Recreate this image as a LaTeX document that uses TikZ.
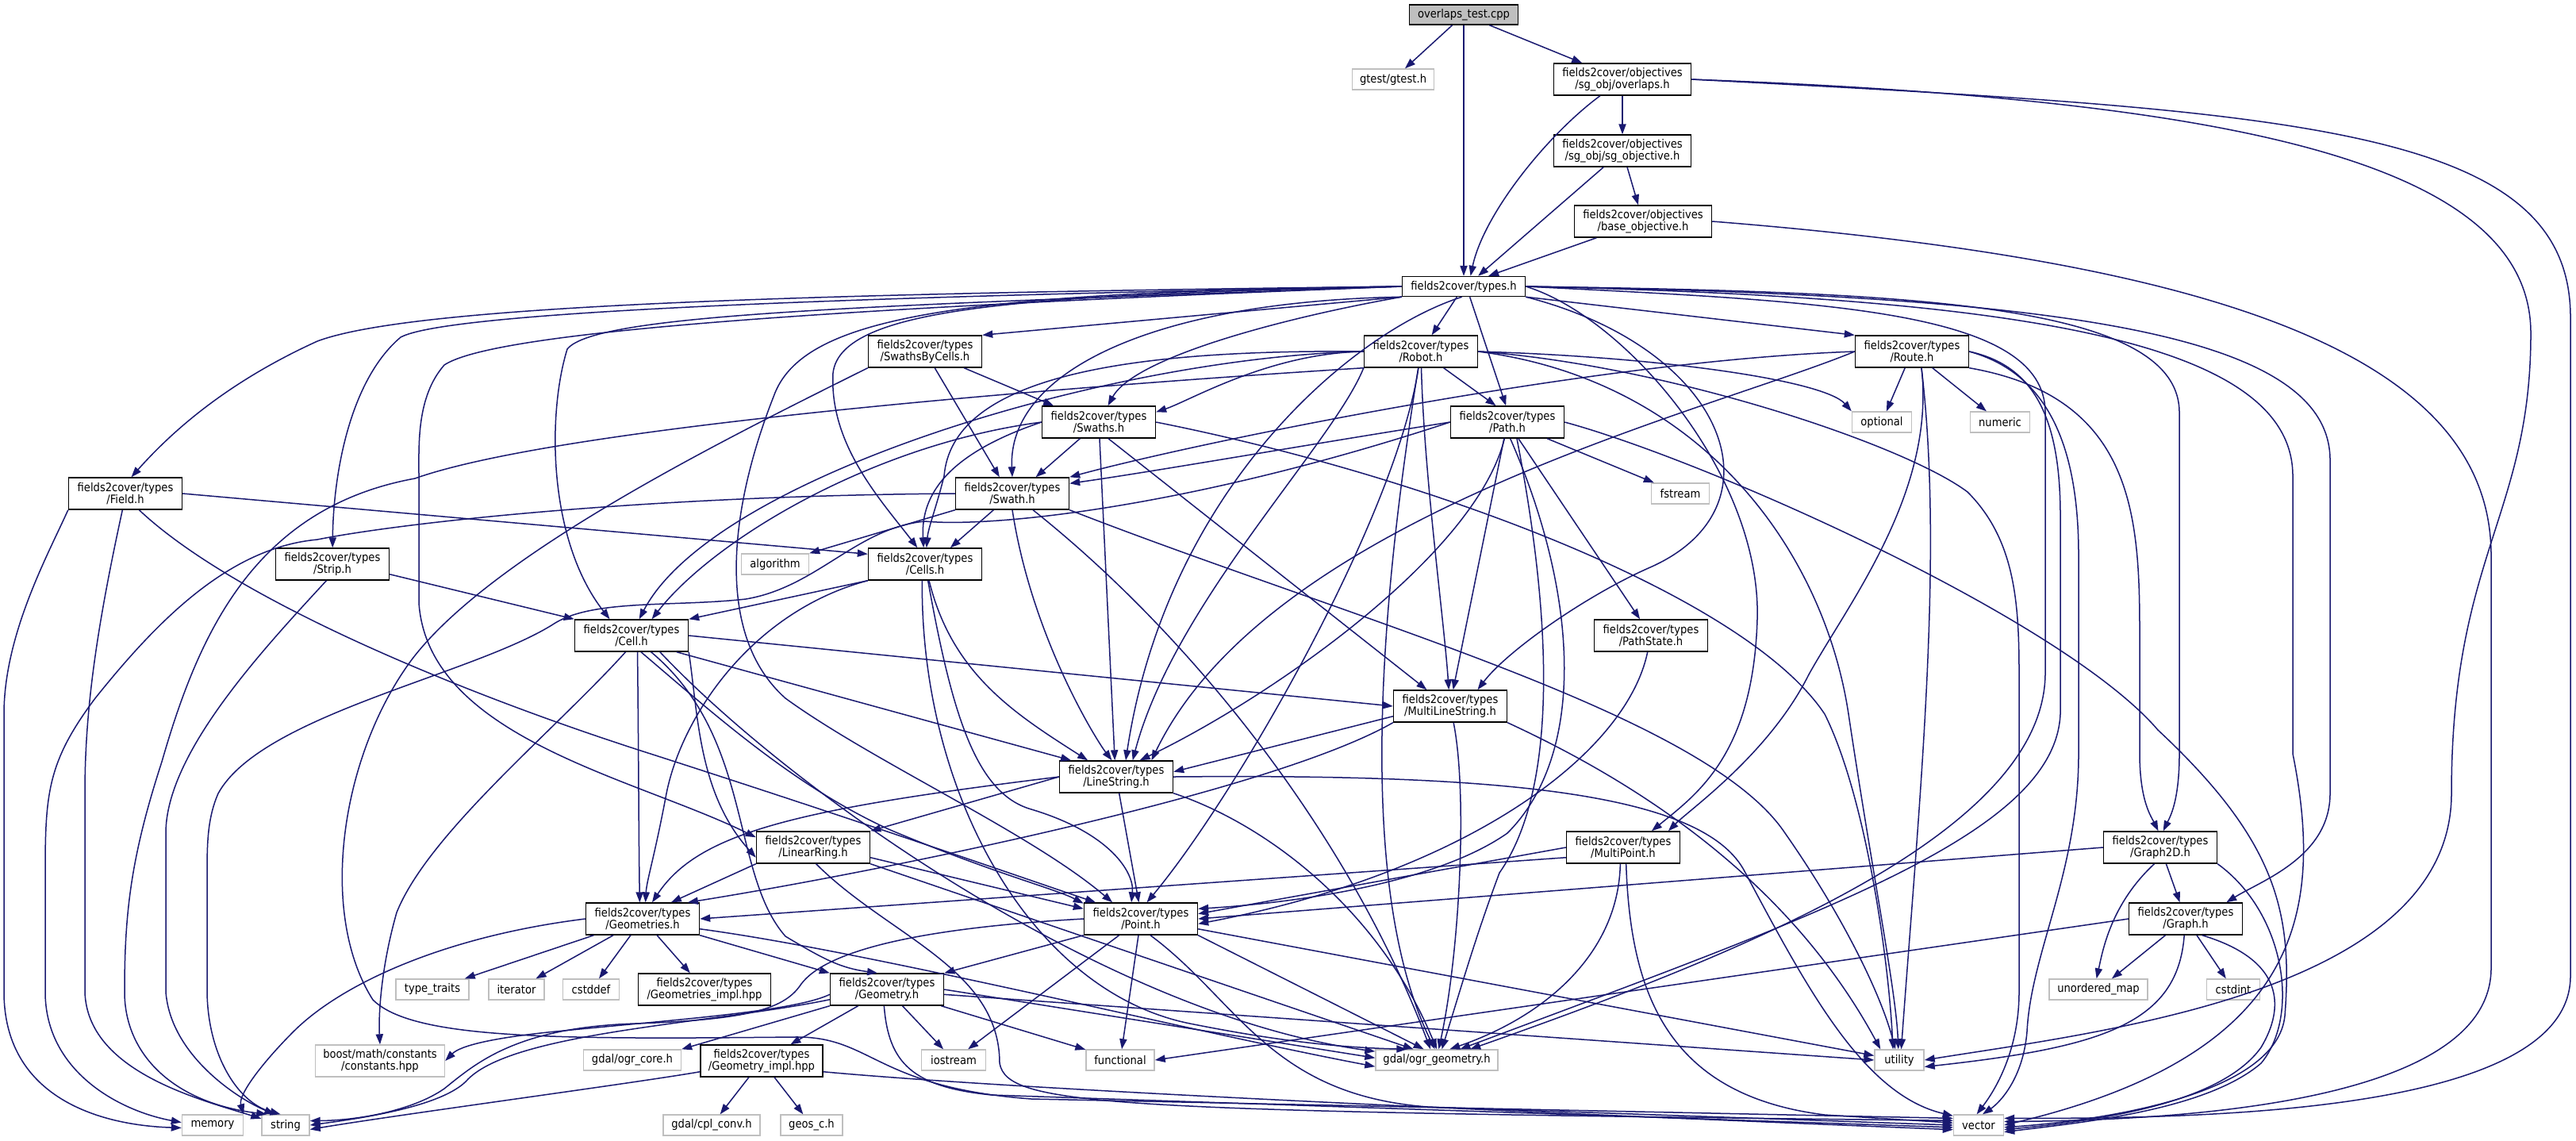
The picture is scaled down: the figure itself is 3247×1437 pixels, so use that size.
\documentclass[tikz,border=0pt]{standalone}
\usepackage{fontspec}
\setmainfont{DejaVu Sans Condensed}
\usepackage{tikz}
\usetikzlibrary{arrows.meta}
\definecolor{edgeblue}{RGB}{25,25,112}
\definecolor{sysgrey}{RGB}{191,191,191}
\definecolor{rootgrey}{RGB}{191,191,191}
\tikzset{
  hdr/.style={rectangle, draw=black, fill=white, line width=0.7pt, align=center, inner sep=0pt,
    font=\fontsize{7.3}{7.6}\selectfont, minimum width=71.5pt, minimum height=20pt},
  sys/.style={rectangle, draw=sysgrey, fill=white, line width=0.7pt, align=center, inner sep=0pt,
    font=\fontsize{7.3}{7.6}\selectfont, minimum height=13pt},
  arrow/.style={-{Stealth[length=6.5pt,width=4.6pt,inset=0pt]}, draw=edgeblue, line width=0.75pt}
}

\begin{document}
\begin{tikzpicture}[x=0.5pt, y=-0.5pt]
  \path[use as bounding box, fill=white] (0,0) rectangle (3247,1437);
  % root and objectives
  \node[hdr, fill=rootgrey, minimum width=68.5pt, minimum height=12.5pt] (test) at (1845,18.5) {overlaps\_test.cpp};
  \node[sys, minimum width=51.5pt] (gtest) at (1756,100) {gtest/gtest.h};
  \node[hdr, minimum width=86.5pt] (overlaps) at (2045,100) {fields2cover/objectives\\/sg\_obj/overlaps.h};
  \node[hdr, minimum width=86.5pt] (sgobj) at (2045,190) {fields2cover/objectives\\/sg\_obj/sg\_objective.h};
  \node[hdr, minimum width=86.5pt] (baseobj) at (2071,279) {fields2cover/objectives\\/base\_objective.h};
  \node[hdr, minimum width=77.5pt, minimum height=12.5pt] (types) at (1845,361) {fields2cover/types.h};
  % type headers
  \node[hdr] (swbycells) at (1166,443) {fields2cover/types\\/SwathsByCells.h};
  \node[hdr] (robot) at (1791,443) {fields2cover/types\\/Robot.h};
  \node[hdr] (route) at (2410,443) {fields2cover/types\\/Route.h};
  \node[hdr] (field) at (158,622) {fields2cover/types\\/Field.h};
  \node[hdr] (swaths) at (1385,532) {fields2cover/types\\/Swaths.h};
  \node[hdr] (path) at (1900,532) {fields2cover/types\\/Path.h};
  \node[hdr] (swath) at (1276,622) {fields2cover/types\\/Swath.h};
  \node[hdr] (strip) at (419,711) {fields2cover/types\\/Strip.h};
  \node[hdr] (cells) at (1166,711) {fields2cover/types\\/Cells.h};
  \node[hdr] (cell) at (796,801) {fields2cover/types\\/Cell.h};
  \node[hdr] (pathstate) at (2081,801) {fields2cover/types\\/PathState.h};
  \node[hdr] (mls) at (1828,890) {fields2cover/types\\/MultiLineString.h};
  \node[hdr] (linestring) at (1407,979) {fields2cover/types\\/LineString.h};
  \node[hdr] (linearring) at (1025,1068) {fields2cover/types\\/LinearRing.h};
  \node[hdr] (multipoint) at (2046,1068) {fields2cover/types\\/MultiPoint.h};
  \node[hdr] (graphtwod) at (2723,1068) {fields2cover/types\\/Graph2D.h};
  \node[hdr] (geometries) at (810,1158) {fields2cover/types\\/Geometries.h};
  \node[hdr] (point) at (1438,1158) {fields2cover/types\\/Point.h};
  \node[hdr] (graph) at (2755,1158) {fields2cover/types\\/Graph.h};
  \node[hdr, minimum width=83.5pt] (geomsimpl) at (888,1247) {fields2cover/types\\/Geometries\_impl.hpp};
  \node[hdr] (geometry) at (1118,1247) {fields2cover/types\\/Geometry.h};
  \node[hdr, minimum width=77pt] (geomimpl) at (960,1337) {fields2cover/types\\/Geometry\_impl.hpp};
  % system headers
  \node[sys, minimum width=37.5pt] (optional) at (2372,532) {optional};
  \node[sys, minimum width=37.5pt] (numeric) at (2521,532) {numeric};
  \node[sys, minimum width=36.5pt] (fstream) at (2118,622) {fstream};
  \node[sys, minimum width=42.5pt] (algorithm) at (977,711) {algorithm};
  \node[sys, minimum width=46pt] (typetraits) at (545,1247) {type\_traits};
  \node[sys, minimum width=35pt] (iterator) at (651,1247) {iterator};
  \node[sys, minimum width=35.5pt] (cstddef) at (745,1247) {cstddef};
  \node[sys, minimum width=62pt] (umap) at (2645,1247) {unordered\_map};
  \node[sys, minimum width=33.5pt] (cstdint) at (2815,1247) {cstdint};
  \node[sys, minimum width=81.5pt, minimum height=20pt] (boost) at (479,1337) {boost/math/constants\\/constants.hpp};
  \node[sys, minimum width=61.5pt] (ogrcore) at (797,1336) {gdal/ogr\_core.h};
  \node[sys, minimum width=40.5pt] (iostream) at (1202,1336) {iostream};
  \node[sys, minimum width=43pt] (functional) at (1412,1336) {functional};
  \node[sys, minimum width=77pt] (ogrgeom) at (1811,1336) {gdal/ogr\_geometry.h};
  \node[sys, minimum width=31pt] (utility) at (2394,1336) {utility};
  \node[sys, minimum width=38.5pt] (memory) at (268,1418) {memory};
  \node[sys, minimum width=30pt] (string) at (360,1418) {string};
  \node[sys, minimum width=61pt] (cplconv) at (897,1418) {gdal/cpl\_conv.h};
  \node[sys, minimum width=39pt] (geosc) at (1023,1418) {geos\_c.h};
  \node[sys, minimum width=31.5pt] (vector) at (2494,1418) {vector};

  % root
  \draw[arrow] (test) -- (gtest);
  \draw[arrow] (test) -- (types);
  \draw[arrow] (test) -- (overlaps);
  % objectives
  \draw[arrow] (overlaps) -- (sgobj);
  \draw[arrow] (overlaps) .. controls (1950,170) and (1870,270) .. (types.57);
  \draw[arrow] (overlaps.east) .. controls (2800,125) and (3190,200) .. (3190,420) .. controls (3190,650) and (3090,700) .. (3090,1000) .. controls (3090,1250) and (2650,1300) .. (utility.east);
  \draw[arrow] (overlaps.east) .. controls (2900,140) and (3240,160) .. (3240,400) -- (3240,1230) .. controls (3240,1400) and (2800,1410) .. (vector.15);
  \draw[arrow] (sgobj) -- (baseobj);
  \draw[arrow] (sgobj) -- (types.36);
  \draw[arrow] (baseobj) -- (types.23);
  \draw[arrow] (baseobj.east) .. controls (2800,330) and (3140,450) .. (3140,700) -- (3140,1220) .. controls (3140,1390) and (2750,1412) .. (vector.8);
  % types.h, left side
  \draw[arrow] (types.west) .. controls (1000,370) and (520,385) .. (400,430) .. controls (290,480) and (220,540) .. (field.70);
  \draw[arrow] (types.west) .. controls (1000,375) and (560,395) .. (505,425) .. controls (440,480) and (420,600) .. (strip);
  \draw[arrow] (types.west) .. controls (1100,385) and (750,395) .. (715,440) .. controls (690,520) and (690,680) .. (cell.143);
  \draw[arrow] (types.west) .. controls (1000,390) and (620,420) .. (560,460) .. controls (525,500) and (528,560) .. (528,600) -- (528,760) .. controls (540,930) and (800,980) .. (linearring.170);
  \draw[arrow] (types.south west) -- (swbycells.north east);
  \draw[arrow] (types.west) .. controls (1300,372) and (1060,385) .. (1050,470) .. controls (1045,560) and (1110,630) .. (cells.115);
  \draw[arrow] (types.west) .. controls (1200,368) and (1010,400) .. (975,500) .. controls (920,640) and (900,800) .. (990,880) .. controls (1100,960) and (1300,1050) .. (point.150);
  \draw[arrow] (types.south west) .. controls (1620,400) and (1430,450) .. (swaths.61);
  \draw[arrow] (types.south west) .. controls (1450,380) and (1270,470) .. (swath.90);
  % types.h, downwards and right
  \draw[arrow] (types) -- (robot);
  \draw[arrow] (types.-60) -- (path.95);
  \draw[arrow] (types.-100) .. controls (1700,420) and (1470,620) .. (linestring.60);
  \draw[arrow] (types.south east) .. controls (2180,440) and (2250,640) .. (2080,715) .. controls (2000,750) and (1900,820) .. (mls.31);
  \draw[arrow] (types.south east) -- (route.north west);
  \draw[arrow] (types.east) .. controls (2050,400) and (2220,600) .. (2215,780) .. controls (2210,950) and (2140,1000) .. (multipoint.30);
  \draw[arrow] (types.east) .. controls (2400,368) and (2747,380) .. (2747,520) -- (2747,950) .. controls (2747,1010) and (2735,1030) .. (graphtwod.80);
  \draw[arrow] (types.east) .. controls (2600,372) and (2937,420) .. (2937,580) -- (2937,1000) .. controls (2937,1080) and (2850,1110) .. (graph.22);
  \draw[arrow] (types.east) .. controls (2550,375) and (2890,430) .. (2890,600) -- (2890,950) .. controls (2930,1150) and (2900,1330) .. (vector.east);
  \draw[arrow] (types.east) .. controls (2300,380) and (2578,390) .. (2578,520) -- (2578,850) .. controls (2575,1050) and (2200,1200) .. (ogrgeom.18);
  % SwathsByCells.h
  \draw[arrow] (swbycells) -- (swaths.160);
  \draw[arrow] (swbycells) -- (swath.128);
  \draw[arrow] (swbycells.south west) .. controls (900,560) and (620,700) .. (520,830) .. controls (430,950) and (400,1150) .. (470,1260) .. controls (520,1310) and (700,1310) .. (1000,1307) .. controls (1100,1305) and (1100,1370) .. (1300,1385) -- (vector.165);
  % Robot.h
  \draw[arrow] (robot) -- (path.125);
  \draw[arrow] (robot.west) .. controls (1600,445) and (1500,505) .. (swaths.10);
  \draw[arrow] (robot.west) .. controls (1400,450) and (900,600) .. (cell.65);
  \draw[arrow] (robot.west) .. controls (1400,440) and (1200,480) .. (1190,600) .. controls (1180,640) and (1170,665) .. (cells.85);
  \draw[arrow] (robot) .. controls (1795,600) and (1820,780) .. (mls.95);
  \draw[arrow] (robot.south west) .. controls (1680,560) and (1480,760) .. (linestring.45);
  \draw[arrow] (robot) .. controls (1760,650) and (1560,1000) .. (point.70);
  \draw[arrow] (robot.south west) .. controls (1300,490) and (700,540) .. (523,603) .. controls (320,640) and (250,800) .. (204,960) .. controls (165,1080) and (157,1150) .. (157,1250) .. controls (157,1330) and (220,1390) .. (string.150);
  \draw[arrow] (robot.east) .. controls (2100,450) and (2300,480) .. (optional.north west);
  \draw[arrow] (robot.east) .. controls (2100,460) and (2400,560) .. (2480,620) .. controls (2540,680) and (2545,760) .. (2545,850) -- (2545,1250) .. controls (2545,1330) and (2510,1380) .. (vector.100);
  \draw[arrow] (robot.east) .. controls (2150,480) and (2300,700) .. (2330,900) .. controls (2360,1100) and (2390,1250) .. (utility.95);
  \draw[arrow] (robot) .. controls (1750,700) and (1700,1100) .. (ogrgeom.100);
  % Route.h
  \draw[arrow] (route.west) .. controls (2000,455) and (1500,560) .. (swath.north east);
  \draw[arrow] (route.west) .. controls (2150,520) and (1600,650) .. (linestring.25);
  \draw[arrow] (route.300) .. controls (2440,620) and (2330,760) .. (2280,850) .. controls (2230,950) and (2130,1020) .. (multipoint.20);
  \draw[arrow] (route) -- (optional);
  \draw[arrow] (route) -- (numeric);
  \draw[arrow] (route.south east) .. controls (2690,500) and (2697,650) .. (2697,800) -- (2697,950) .. controls (2697,1010) and (2712,1030) .. (graphtwod.97);
  \draw[arrow] (route.east) .. controls (2580,470) and (2620,560) .. (2620,700) -- (2620,950) .. controls (2620,1100) and (2560,1200) .. (2555,1300) .. controls (2550,1360) and (2520,1390) .. (vector.70);
  \draw[arrow] (route.east) .. controls (2560,460) and (2597,520) .. (2597,650) -- (2597,900) .. controls (2590,1050) and (2300,1150) .. (ogrgeom.25);
  \draw[arrow] (route.300) .. controls (2450,700) and (2420,1000) .. (utility.80);
  % Path.h
  \draw[arrow] (path.west) .. controls (1650,560) and (1450,595) .. (swath.10);
  \draw[arrow] (path.west) .. controls (1500,640) and (1250,665) .. (1166,657) .. controls (1080,665) and (1030,740) .. (940,755) .. controls (850,765) and (750,755) .. (700,785) .. controls (600,850) and (330,900) .. (275,1000) .. controls (262,1030) and (261,1060) .. (261,1100) -- (261,1250) .. controls (262,1330) and (300,1390) .. (string.115);
  \draw[arrow] (path) -- (fstream);
  \draw[arrow] (path) -- (pathstate);
  \draw[arrow] (path) -- (mls.80);
  \draw[arrow] (path.-100) .. controls (1860,700) and (1600,880) .. (linestring.35);
  \draw[arrow] (path.-80) .. controls (1990,750) and (2000,950) .. (1900,1050) .. controls (1800,1120) and (1600,1140) .. (point.10);
  \draw[arrow] (path.-60) .. controls (1960,800) and (1960,1000) .. (1890,1100) .. controls (1860,1180) and (1840,1250) .. (ogrgeom.65);
  \draw[arrow] (path.east) .. controls (2150,580) and (2600,780) .. (2720,920) .. controls (2870,1060) and (2890,1150) .. (2880,1280) .. controls (2870,1380) and (2650,1412) .. (vector.-5);
  \draw[arrow] (pathstate) .. controls (2050,950) and (1850,1100) .. (point.-5);
  % Swaths.h and Swath.h
  \draw[arrow] (swaths) -- (swath.35);
  \draw[arrow] (swaths.west) .. controls (1200,570) and (1160,620) .. (cells.95);
  \draw[arrow] (swaths.west) .. controls (1100,560) and (900,680) .. (cell.39);
  \draw[arrow] (swaths) -- (linestring.95);
  \draw[arrow] (swaths.-60) -- (mls.145);
  \draw[arrow] (swaths.east) .. controls (1800,600) and (2200,750) .. (2300,900) .. controls (2350,1000) and (2380,1200) .. (utility.120);
  \draw[arrow] (swath) -- (cells.33);
  \draw[arrow] (swath.south west) -- (algorithm.north east);
  \draw[arrow] (swath.west) .. controls (800,625) and (500,660) .. (400,680) .. controls (290,690) and (200,780) .. (120,880) .. controls (60,960) and (57,1000) .. (57,1100) -- (57,1250) .. controls (57,1350) and (150,1400) .. (memory.175);
  \draw[arrow] (swath.south) .. controls (1300,800) and (1380,930) .. (linestring.105);
  \draw[arrow] (swath) .. controls (1500,800) and (1700,1050) .. (ogrgeom.120);
  \draw[arrow] (swath.south east) .. controls (1700,780) and (2150,900) .. (2250,1050) .. controls (2320,1150) and (2370,1250) .. (utility.110);
  % Field.h and Strip.h
  \draw[arrow] (field.east) -- (cells.170);
  \draw[arrow] (field.-50) .. controls (300,760) and (600,880) .. (820,950) .. controls (1100,1040) and (1300,1110) .. (point.160);
  \draw[arrow] (field.south west) .. controls (60,700) and (5,800) .. (5,900) -- (5,1250) .. controls (5,1380) and (120,1418) .. (memory.185);
  \draw[arrow] (field.-100) .. controls (120,800) and (107,900) .. (107,1000) -- (107,1250) .. controls (110,1350) and (250,1385) .. (string.165);
  \draw[arrow] (strip.-10) -- (cell.north west);
  \draw[arrow] (strip.-110) .. controls (330,820) and (209,950) .. (209,1050) -- (209,1250) .. controls (215,1330) and (300,1385) .. (string.135);
  % Cells.h and Cell.h
  \draw[arrow] (cells.south west) -- (cell.north east);
  \draw[arrow] (cells.south west) .. controls (950,770) and (860,900) .. (840,1000) .. controls (825,1080) and (815,1110) .. (geometries.80);
  \draw[arrow] (cells) .. controls (1200,850) and (1280,900) .. (linestring.150);
  \draw[arrow] (cells.-80) .. controls (1200,900) and (1230,1000) .. (1300,1020) .. controls (1400,1050) and (1430,1100) .. (point.120);
  \draw[arrow] (cells.-100) .. controls (1160,1000) and (1300,1250) .. (1500,1290) .. controls (1600,1310) and (1680,1320) .. (ogrgeom.160);
  \draw[arrow] (cell.-70) .. controls (805,950) and (805,1050) .. (geometries.100);
  \draw[arrow] (cell.south east) .. controls (880,900) and (880,1000) .. (linearring.190);
  \draw[arrow] (cell.-60) .. controls (900,900) and (1000,990) .. (1120,1045) .. controls (1250,1100) and (1330,1120) .. (point.165);
  \draw[arrow] (cell.east) -- (mls.west);
  \draw[arrow] (cell.-20) -- (linestring.160);
  \draw[arrow] (cell.-110) .. controls (700,920) and (540,1050) .. (500,1150) .. controls (480,1220) and (477,1280) .. (boost.north);
  \draw[arrow] (cell.-40) .. controls (950,930) and (920,1100) .. (990,1180) .. controls (1040,1210) and (1060,1220) .. (geometry.120);
  \draw[arrow] (cell.-30) .. controls (1000,1000) and (1400,1280) .. (ogrgeom.172);
  % geometry headers
  \draw[arrow] (geometries.south east) -- (geometry.north west);
  \draw[arrow] (geometries) -- (geomsimpl);
  \draw[arrow] (geometries) -- (typetraits);
  \draw[arrow] (geometries) -- (iterator);
  \draw[arrow] (geometries) -- (cstddef);
  \draw[arrow] (geometries.west) .. controls (560,1180) and (430,1240) .. (370,1300) .. controls (330,1340) and (300,1380) .. (memory.north east);
  \draw[arrow] (geometries.-10) .. controls (1100,1200) and (1500,1300) .. (ogrgeom.186);
  \draw[arrow] (linearring.south west) -- (geometries.30);
  \draw[arrow] (linearring.-10) -- (point.170);
  \draw[arrow] (linearring.south east) -- (ogrgeom.155);
  \draw[arrow] (linearring.-80) .. controls (1120,1180) and (1260,1220) .. (1260,1340) .. controls (1270,1395) and (1400,1400) .. (vector.170);
  \draw[arrow] (linestring.-80) -- (point.97);
  \draw[arrow] (linestring.west) -- (linearring.north east);
  \draw[arrow] (linestring.west) .. controls (1000,1020) and (880,1050) .. (geometries.60);
  \draw[arrow] (linestring.south east) .. controls (1600,1040) and (1740,1150) .. (ogrgeom.90);
  \draw[arrow] (linestring.east) .. controls (1900,975) and (2150,1000) .. (2200,1100) .. controls (2280,1250) and (2350,1380) .. (vector.160);
  \draw[arrow] (mls.190) -- (linestring.5);
  \draw[arrow] (mls.south west) .. controls (1600,1000) and (1100,1100) .. (geometries.20);
  \draw[arrow] (mls) .. controls (1850,1000) and (1840,1200) .. (ogrgeom.80);
  \draw[arrow] (mls.south east) .. controls (2050,980) and (2250,1100) .. (utility.150);
  \draw[arrow] (multipoint.west) -- (point.5);
  \draw[arrow] (multipoint.190) -- (geometries.east);
  \draw[arrow] (multipoint.-100) .. controls (2040,1200) and (1950,1280) .. (ogrgeom.40);
  \draw[arrow] (multipoint.-80) .. controls (2055,1250) and (2100,1380) .. (2300,1405) -- (vector.175);
  % Point.h
  \draw[arrow] (point.south west) -- (geometry.north east);
  \draw[arrow] (point.west) .. controls (1150,1170) and (1040,1200) .. (1010,1240) .. controls (990,1270) and (950,1285) .. (800,1290) .. controls (650,1295) and (600,1340) .. (560,1372) .. controls (520,1400) and (450,1412) .. (string.10);
  \draw[arrow] (point) -- (iostream);
  \draw[arrow] (point) -- (functional);
  \draw[arrow] (point.south east) -- (ogrgeom.140);
  \draw[arrow] (point.-10) -- (utility.170);
  \draw[arrow] (point.-60) .. controls (1560,1260) and (1600,1380) .. (1800,1395) -- (vector.180);
  % Geometry.h
  \draw[arrow] (geometry) -- (geomimpl);
  \draw[arrow] (geometry.south west) -- (ogrcore.north east);
  \draw[arrow] (geometry) -- (iostream);
  \draw[arrow] (geometry) -- (functional);
  \draw[arrow] (geometry.185) .. controls (1000,1275) and (850,1285) .. (700,1300) .. controls (620,1308) and (580,1318) .. (boost.east);
  \draw[arrow] (geometry.190) .. controls (900,1290) and (650,1300) .. (590,1360) .. controls (560,1395) and (450,1410) .. (string.east);
  \draw[arrow] (geometry.east) -- (ogrgeom.178);
  \draw[arrow] (geometry.-5) -- (utility.west);
  \draw[arrow] (geometry.-100) .. controls (1120,1340) and (1150,1370) .. (1250,1380) -- (vector.185);
  \draw[arrow] (geomimpl) -- (cplconv);
  \draw[arrow] (geomimpl) -- (geosc);
  \draw[arrow] (geomimpl.190) .. controls (800,1365) and (500,1405) .. (string.-10);
  \draw[arrow] (geomimpl.-10) .. controls (1300,1375) and (2000,1405) .. (vector.190);
  % graphs
  \draw[arrow] (graphtwod) -- (graph);
  \draw[arrow] (graphtwod.-110) .. controls (2660,1140) and (2650,1200) .. (umap.100);
  \draw[arrow] (graphtwod.west) -- (point.east);
  \draw[arrow] (graphtwod.south east) .. controls (2880,1150) and (2900,1280) .. (2850,1340) .. controls (2780,1400) and (2620,1415) .. (vector.-15);
  \draw[arrow] (graph) -- (umap);
  \draw[arrow] (graph) -- (cstdint);
  \draw[arrow] (graph.-45) .. controls (2880,1210) and (2880,1270) .. (2850,1320) .. controls (2800,1390) and (2650,1412) .. (vector.-10);
  \draw[arrow] (graph.-95) .. controls (2745,1290) and (2650,1320) .. (utility.-15);
  \draw[arrow] (graph.west) -- (functional.east);
\end{tikzpicture}
\end{document}
